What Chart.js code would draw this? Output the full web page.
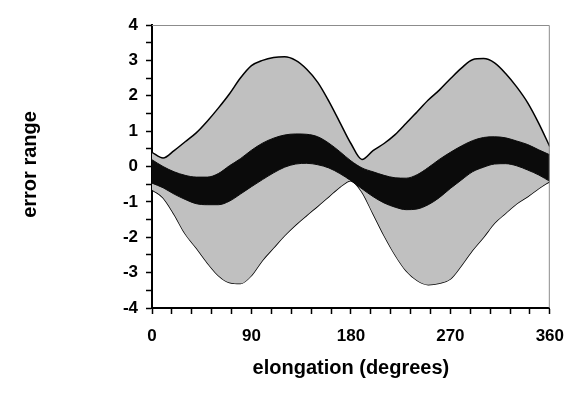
<!DOCTYPE html>
<html>
<head>
<meta charset="utf-8">
<script src="https://cdn.jsdelivr.net/npm/chart.js@4"></script>
<style>
  html, body { margin: 0; padding: 0; background: #fff; }
  #wrap { width: 576px; height: 394px; }
</style>
</head>
<body>
<div id="wrap"><canvas id="chart" width="576" height="394"></canvas></div>
<script>
// elongation in degrees, every 10
const angles = [0, 10, 20, 30, 40, 50, 60, 70, 80, 90, 100, 110, 120, 130, 140, 150, 160, 170, 180,
  190, 200, 210, 220, 230, 240, 250, 260, 270, 280, 290, 300, 310, 320, 330, 340, 350, 360];

// grey envelope
const outerUpper = [0.40, 0.24, 0.45, 0.70, 0.95, 1.28, 1.65, 2.05, 2.50, 2.85, 3.00, 3.08, 3.10, 3.00, 2.75, 2.38, 1.85, 1.25, 0.65,
  0.20, 0.45, 0.65, 0.90, 1.22, 1.55, 1.88, 2.16, 2.48, 2.78, 3.02, 3.05, 2.93, 2.63, 2.25, 1.80, 1.22, 0.56];
const outerLower = [-0.66, -0.88, -1.35, -1.90, -2.30, -2.72, -3.08, -3.28, -3.31, -3.08, -2.65, -2.30, -1.95, -1.65, -1.38, -1.12, -0.85, -0.58, -0.40,
  -0.72, -1.33, -1.95, -2.50, -2.95, -3.22, -3.34, -3.30, -3.18, -2.80, -2.37, -2.00, -1.60, -1.32, -1.05, -0.85, -0.62, -0.42];

// black band
const bandUpper = [0.19, 0.00, -0.15, -0.25, -0.30, -0.30, -0.20, 0.02, 0.22, 0.46, 0.66, 0.80, 0.89, 0.92, 0.91, 0.84, 0.66, 0.42, 0.16,
  -0.04, -0.15, -0.25, -0.32, -0.33, -0.23, -0.03, 0.20, 0.40, 0.58, 0.73, 0.82, 0.84, 0.81, 0.72, 0.62, 0.47, 0.33];
const bandLower = [-0.47, -0.60, -0.78, -0.93, -1.05, -1.08, -1.08, -0.98, -0.78, -0.57, -0.37, -0.18, -0.02, 0.07, 0.09, 0.05, -0.04, -0.20, -0.40,
  -0.63, -0.85, -1.03, -1.15, -1.22, -1.20, -1.08, -0.88, -0.62, -0.38, -0.15, -0.02, 0.07, 0.08, 0.02, -0.10, -0.24, -0.42];

const xLabels = [0, 90, 180, 270, 360];
const yLabels = [-4, -3, -2, -1, 0, 1, 2, 3, 4];
const yTitle = "error range";

const toPoints = (ys) => angles.map((a, i) => ({ x: a, y: ys[i] }));

const fontFamily = "'Liberation Sans', Arial, sans-serif";

// grey frame on top and right + y title
const framePlugin = {
  id: "frame",
  afterDatasetsDraw(chart) {
    const { ctx, chartArea: a } = chart;
    ctx.save();
    ctx.strokeStyle = "#8c8c8c";
    ctx.lineWidth = 1;
    ctx.beginPath();
    ctx.moveTo(a.left, a.top + 0.5);
    ctx.lineTo(a.right - 0.5, a.top + 0.5);
    ctx.lineTo(a.right - 0.5, a.bottom);
    ctx.stroke();
    ctx.restore();
  },
  afterDraw(chart) {
    const { ctx, chartArea: a } = chart;
    ctx.save();
    ctx.translate(36, (a.top + a.bottom) / 2 - 2);
    ctx.rotate(-Math.PI / 2);
    ctx.font = "bold 20px " + fontFamily;
    ctx.fillStyle = "#000";
    ctx.textAlign = "center";
    ctx.textBaseline = "alphabetic";
    ctx.fillText(yTitle, 0, 0);
    ctx.restore();
  }
};

const tickFont = { family: fontFamily, size: 17, weight: "bold" };
const titleFont = { family: fontFamily, size: 20, weight: "bold" };

new Chart(document.getElementById("chart"), {
  type: "line",
  data: {
    datasets: [
      { data: toPoints(bandUpper), fill: "+1", backgroundColor: "#0b0b0b", borderColor: "#0b0b0b", borderWidth: 1, pointRadius: 0, cubicInterpolationMode: "monotone", order: 0 },
      { data: toPoints(bandLower), fill: false, borderColor: "#0b0b0b", borderWidth: 1, pointRadius: 0, cubicInterpolationMode: "monotone", order: 0 },
      { data: toPoints(outerUpper), fill: "+1", backgroundColor: "#c0c0c0", borderColor: "#000", borderWidth: 1.5, pointRadius: 0, cubicInterpolationMode: "monotone", order: 1 },
      { data: toPoints(outerLower), fill: false, borderColor: "#000", borderWidth: 1.5, pointRadius: 0, cubicInterpolationMode: "monotone", order: 1 }
    ]
  },
  options: {
    responsive: false,
    animation: false,
    layout: { padding: { top: 25, right: 25, left: 0, bottom: 0 } },
    plugins: { legend: { display: false }, tooltip: { enabled: false } },
    scales: {
      x: {
        type: "linear",
        min: 0,
        max: 360,
        afterFit: (s) => { s.height = 86; },
        border: { color: "#000", width: 2 },
        grid: { drawOnChartArea: false, tickLength: 6, tickColor: "#000", tickWidth: 1.5 },
        ticks: {
          stepSize: 18,
          color: "#000",
          font: tickFont,
          padding: 12,
          maxRotation: 0,
          autoSkip: false,
          callback: (v) => (xLabels.includes(v) ? String(v) : "")
        },
        title: { display: true, text: "elongation (degrees)", color: "#000", font: titleFont, padding: { top: 0, bottom: 14 } }
      },
      y: {
        min: -4,
        max: 4,
        afterFit: (s) => { s.width = 152; },
        border: { color: "#000", width: 2 },
        grid: { drawOnChartArea: false, tickLength: 6, tickColor: "#000", tickWidth: 1.5 },
        ticks: {
          stepSize: 0.5,
          color: "#000",
          font: tickFont,
          padding: 8,
          autoSkip: false,
          callback: (v) => (yLabels.includes(v) ? String(v) : "")
        }
      }
    }
  },
  plugins: [framePlugin]
});
</script>
</body>
</html>
